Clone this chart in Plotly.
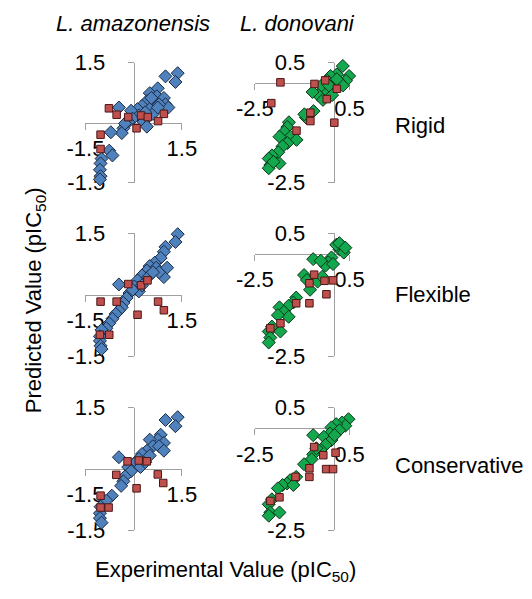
import plotly.graph_objects as go

W, H = 532, 599
FONT = "Liberation Sans, Arial, sans-serif"

# ---------------- data (experimental x, predicted y) ----------------
# L. amazonensis - Rigid
ama_rigid_train_x = [1.37, 0.99, 1.30, 0.75, 0.50, 0.72, 0.94, 0.99, 1.08, 0.65, 0.41, 0.26, 0.50, 0.12, -0.08,
                     -0.46, 0.16, -0.03, 0.31, -0.17, -0.32, -0.27, -0.37, -0.71, 0.41, 0.60, 0.79, -0.76, -0.66,
                     -1.00, -1.03, -1.05, -1.03, -1.05, 0.36, 0.75, 0.55]
ama_rigid_train_y = [1.24, 1.16, 1.02, 0.86, 0.74, 0.66, 0.62, 0.46, 0.38, 0.54, 0.54, 0.42, 0.34, 0.34, 0.30,
                     0.38, 0.18, 0.10, 0.02, 0.02, -0.14, -0.02, -0.26, -0.24, -0.10, 0.22, 0.46, -0.70, -0.82,
                     -0.90, -1.02, -1.18, -1.34, -1.42, 0.26, 0.38, 0.62]
ama_rigid_test_x = [-0.77, -0.53, -0.17, 0.23, 0.44, 0.94, 0.76, 0.09, -1.03, -1.03]
ama_rigid_test_y = [0.36, 0.20, 0.14, 0.18, 0.14, 0.22, 0.04, -0.14, -0.30, -0.66]

# L. donovani - Rigid
don_rigid_train_x = [0.29, 0.49, 0.39, 0.10, -0.10, -0.20, 0.20, 0.29, 0.00, -0.29, -0.39, -0.49, -0.67, -0.34,
                     -0.05, -0.64, -0.88, -0.93, -1.42, -1.47, -1.57, -1.37, -1.72, -1.18, -1.47, -1.62, -1.76,
                     -1.96, -2.06, -2.01, -2.06, -1.72, -1.91, 0.10, -0.15]
don_rigid_train_y = [0.42, 0.17, 0.05, 0.21, 0.17, 0.05, 0.01, -0.07, -0.15, -0.19, -0.07, -0.31, -0.23, -0.43,
                     -0.31, -0.71, -0.87, -0.79, -0.99, -1.11, -1.23, -1.35, -1.35, -1.43, -1.51, -1.59, -1.74,
                     -1.82, -1.90, -2.06, -2.14, -2.02, -1.98, 0.09, -0.07]
don_rigid_test_x = [-1.69, -0.61, -0.27, 0.10, -0.22, -1.98, -0.74, -0.74, 0.02, -1.18]
don_rigid_test_y = [0.01, -0.03, 0.06, -0.15, -0.41, -0.51, -0.75, -0.96, -1.00, -1.20]

# L. amazonensis - Flexible
ama_flex_train_x = [1.37, 1.30, 0.99, 0.94, 0.84, 0.65, 0.50, 0.70, 1.04, 0.94, 0.79, 0.41, 0.26, 0.45, 0.12,
                    -0.46, 0.02, 0.16, -0.13, -0.03, -0.22, -0.32, -0.37, -0.46, -0.56, -0.66, -0.76, -0.85,
                    -1.00, -1.05, -1.05, -1.03, -1.00, 0.26, 0.60]
ama_flex_train_y = [1.48, 1.29, 1.17, 1.05, 0.90, 0.78, 0.70, 0.66, 0.66, 0.43, 0.55, 0.59, 0.47, 0.43, 0.35,
                    0.25, 0.20, 0.08, 0.04, 0.12, -0.08, -0.20, -0.31, -0.39, -0.47, -0.59, -0.70, -0.82,
                    -0.86, -1.02, -1.13, -1.25, -1.33, 0.23, 0.55]
ama_flex_test_x = [-0.17, 0.23, 0.43, -1.03, -0.53, 0.76, 0.94, 0.12, -1.05, -0.76]
ama_flex_test_y = [0.26, 0.23, 0.35, -0.17, -0.17, -0.17, -0.38, -0.49, -0.98, -0.98]

# L. donovani - Flexible
don_flex_train_x = [0.27, 0.18, 0.08, 0.32, -0.07, -0.17, -0.26, -0.02, -0.65, -0.41, -0.94, -0.85, -0.75, -0.51,
                    -0.36, -1.19, -1.28, -1.43, -1.72, -1.58, -1.43, -1.77, -1.96, -2.06, -2.01, -2.06, -1.69,
                    0.18, 0.37]
don_flex_train_y = [0.19, 0.11, 0.22, 0.03, -0.09, -0.21, -0.29, -0.25, -0.13, -0.17, -0.52, -0.64, -0.88, -0.68,
                    -0.56, -1.07, -1.19, -1.27, -1.31, -1.42, -1.54, -1.50, -1.78, -1.90, -2.05, -2.17, -1.90,
                    0.26, 0.15]
don_flex_test_x = [-0.62, -0.77, -0.29, -0.02, -0.23, -0.77, -1.19, -1.69, -2.01]
don_flex_test_y = [-0.51, -0.72, -0.66, -0.65, -0.99, -1.21, -1.21, -1.70, -1.82]

# L. amazonensis - Conservative
ama_cons_train_x = [1.37, 0.99, 1.30, 0.84, 0.75, 0.50, 0.94, 0.60, 0.79, 0.94, 0.41, 0.26, -0.46, 0.16, 0.02,
                    0.21, -0.17, -0.08, -0.27, -0.32, -0.39, -0.68, -0.85, -1.03, -1.05, -1.05, -1.00, 0.36, 0.50]
ama_cons_train_y = [1.27, 1.20, 1.05, 0.84, 0.72, 0.72, 0.64, 0.56, 0.56, 0.45, 0.45, 0.37, 0.29, 0.25, 0.13,
                    0.05, 0.05, -0.05, -0.18, -0.30, -0.41, -0.65, -0.77, -0.92, -1.08, -1.20, -1.31, 0.17, 0.33]
ama_cons_test_x = [-0.19, 0.16, 0.41, -0.54, 0.75, 0.92, 0.09, -1.03, -1.03, -0.78]
ama_cons_test_y = [0.19, 0.21, 0.19, -0.14, -0.13, -0.34, -0.47, -0.65, -0.94, -0.94]

# L. donovani - Conservative
don_cons_train_x = [0.47, 0.27, 0.37, 0.08, -0.07, 0.18, -0.12, -0.65, -0.31, -0.07, -0.26, -0.41, -0.65, -0.70,
                    -0.94, -1.19, -1.38, -1.48, -1.62, -1.28, -1.77, -1.96, -2.06, -2.01, -2.06, -1.72, -0.55, 0.03]
don_cons_train_y = [0.22, 0.14, 0.06, 0.10, 0.02, -0.05, -0.13, -0.17, -0.21, -0.29, -0.41, -0.53, -0.64, -0.76,
                    -0.88, -1.19, -1.27, -1.35, -1.39, -1.39, -1.47, -1.74, -1.86, -2.06, -2.14, -2.06, -0.49, -0.17]
don_cons_test_x = [-0.62, -0.33, 0.06, -0.77, -0.77, -0.24, -0.02, -1.21, -1.72, -2.01]
don_cons_test_y = [-0.46, -0.66, -0.60, -0.98, -1.19, -1.00, -1.00, -1.19, -1.69, -1.78]

# ---------------- labels ----------------
col_titles = ["<i>L. amazonensis</i>", "<i>L. donovani</i>"]
row_titles = ["Rigid", "Flexible", "Conservative"]
ama_ticks = [-1.5, 1.5]
ama_ticktext = ["-1.5", "1.5"]
don_ticks = [-2.5, 0.5]
don_ticktext = ["-2.5", "0.5"]
x_title = "Experimental Value (pIC<sub>50</sub>)"
y_title = "Predicted Value (pIC<sub>50</sub>)"

BLUE, BLUE_LINE = "#4F81BD", "#1B2A44"
GREEN, GREEN_LINE = "#14A84E", "#0B3319"
RED, RED_LINE = "#C0504D", "#4A1716"

panels = [
    (0, 0, ama_rigid_train_x, ama_rigid_train_y, ama_rigid_test_x, ama_rigid_test_y),
    (0, 1, don_rigid_train_x, don_rigid_train_y, don_rigid_test_x, don_rigid_test_y),
    (1, 0, ama_flex_train_x, ama_flex_train_y, ama_flex_test_x, ama_flex_test_y),
    (1, 1, don_flex_train_x, don_flex_train_y, don_flex_test_x, don_flex_test_y),
    (2, 0, ama_cons_train_x, ama_cons_train_y, ama_cons_test_x, ama_cons_test_y),
    (2, 1, don_cons_train_x, don_cons_train_y, don_cons_test_x, don_cons_test_y),
]

# pixel geometry of plot areas
col_px = [(71, 174), (252, 353)]
row_px = [(53, 178), (231, 359), (413, 541)]

fig = go.Figure()
layout = dict(
    width=W, height=H, margin=dict(l=0, r=0, t=0, b=0),
    paper_bgcolor="white", plot_bgcolor="rgba(0,0,0,0)",
    showlegend=False,
    font=dict(family=FONT, size=22, color="black"),
)

for i, (r, c, tx, ty, sx, sy) in enumerate(panels, start=1):
    if c == 0:
        rng, tv, tt = [-1.5, 1.5], ama_ticks, ama_ticktext
        col, line = BLUE, BLUE_LINE
    else:
        rng, tv, tt = [-2.5, 0.5], don_ticks, don_ticktext
        col, line = GREEN, GREEN_LINE
    x0p, x1p = col_px[c]
    y0p, y1p = row_px[r]
    xd = [x0p / W, x1p / W]
    yd = [1 - y1p / H, 1 - y0p / H]
    frac0 = (0 - rng[0]) / (rng[1] - rng[0])
    xpos = xd[0] + frac0 * (xd[1] - xd[0])   # where y-axis crosses (x=0)
    ypos = yd[0] + frac0 * (yd[1] - yd[0])   # where x-axis crosses (y=0)
    xa = "x" if i == 1 else f"x{i}"
    ya = "y" if i == 1 else f"y{i}"
    axcommon = dict(range=rng, tickvals=tv, ticktext=tt, ticks="outside", ticklen=6,
                    tickcolor="#A0A0A0", showline=True, linecolor="#A0A0A0", linewidth=1,
                    showgrid=False, zeroline=False, anchor="free", layer="below traces",
                    tickfont=dict(family=FONT, size=22, color="black"), fixedrange=True)
    layout[f"xaxis{'' if i == 1 else i}"] = dict(domain=xd, position=ypos, ticklabelstandoff=0, **axcommon)
    layout[f"yaxis{'' if i == 1 else i}"] = dict(domain=yd, position=xpos, ticklabelstandoff=18, **axcommon)

    fig.add_trace(go.Scatter(x=tx, y=ty, mode="markers", xaxis=xa, yaxis=ya, cliponaxis=False,
                             marker=dict(symbol="diamond", size=10, color=col,
                                         line=dict(color=line, width=1))))
    fig.add_trace(go.Scatter(x=sx, y=sy, mode="markers", xaxis=xa, yaxis=ya, cliponaxis=False,
                             marker=dict(symbol="square", size=7.5, color=RED,
                                         line=dict(color=RED_LINE, width=1))))

ann = []
for c, t in enumerate(col_titles):
    cx = [122, 298][c]
    ann.append(dict(text=t, x=cx / W, y=1 - 12 / H, xref="paper", yref="paper",
                    showarrow=False, xanchor="center", yanchor="middle"))
for r, t in enumerate(row_titles):
    cy = [118, 295, 473][r]
    ann.append(dict(text=t, x=400 / W, y=1 - cy / H, xref="paper", yref="paper",
                    showarrow=False, xanchor="left", yanchor="middle"))
ann.append(dict(text=x_title, x=221 / W, y=1 - 583 / H, xref="paper", yref="paper",
                showarrow=False, xanchor="center", yanchor="middle"))
ann.append(dict(text=y_title, x=18 / W, y=1 - 301 / H, xref="paper", yref="paper",
                showarrow=False, xanchor="center", yanchor="middle", textangle=-90))
layout["annotations"] = ann

fig.update_layout(**layout)
fig.write_html("out.html", config={"displayModeBar": False, "staticPlot": True},
               post_script="document.body.style.margin='0';document.body.style.overflow='hidden';")
